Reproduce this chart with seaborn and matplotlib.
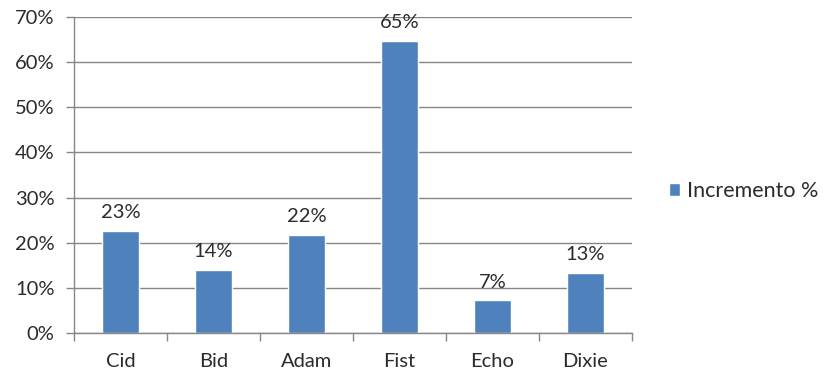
import matplotlib
matplotlib.use("Agg")
import matplotlib.pyplot as plt
from matplotlib.ticker import PercentFormatter, FixedLocator
import seaborn as sns
import pandas as pd

categories = ["Cid", "Bid", "Adam", "Fist", "Echo", "Dixie"]
values = [0.227, 0.141, 0.218, 0.646, 0.073, 0.134]
series_name = "Incremento %"
y_ticks = [0.0, 0.1, 0.2, 0.3, 0.4, 0.5, 0.6, 0.7]

df = pd.DataFrame({"name": categories, "value": values})

sns.set_theme(style="white")
plt.rcParams["font.family"] = ["Lato", "DejaVu Sans"]

bar_color = "#4F81BD"
line_color = "#868686"
text_color = "#2b2b2b"
fsize = 14.5

fig = plt.figure(figsize=(8.23, 3.73), dpi=100)
ax = fig.add_axes([74 / 823, 1 - 333.3 / 373, (632 - 74) / 823, (333.3 - 16.7) / 373])

sns.barplot(data=df, x="name", y="value", color=bar_color, width=0.4,
            saturation=1, label=series_name, ax=ax)

ax.set_ylim(0, 0.7)
ax.set_xlim(-0.5, len(categories) - 0.5)
ax.yaxis.set_major_locator(FixedLocator(y_ticks))
ax.yaxis.set_major_formatter(PercentFormatter(1.0, decimals=0))
ax.grid(axis="y", color=line_color, linewidth=1)
ax.set_axisbelow(True)

for side in ["top", "right"]:
    ax.spines[side].set_visible(False)
for side in ["left", "bottom"]:
    ax.spines[side].set_color(line_color)
    ax.spines[side].set_linewidth(1)

ax.set_xlabel("")
ax.set_ylabel("")
ax.tick_params(axis="y", left=True, length=6, color=line_color, width=1,
               labelsize=fsize, labelcolor=text_color, pad=8)
ax.tick_params(axis="x", which="major", bottom=False, labelsize=fsize,
               labelcolor=text_color, pad=8)
ax.set_xticks([i - 0.5 for i in range(len(categories) + 1)], minor=True)
ax.tick_params(axis="x", which="minor", bottom=True, length=6,
               color=line_color, width=1)

for container in ax.containers:
    ax.bar_label(container, labels=[f"{v:.0%}" for v in values], padding=7,
                 fontsize=fsize, color=text_color)

leg = ax.legend(loc="center left", bbox_to_anchor=(1.05, 0.45), frameon=False,
                fontsize=15.5, handlelength=0.55, handleheight=0.55,
                handletextpad=0.33, borderaxespad=0)
for t in leg.get_texts():
    t.set_color(text_color)

fig.savefig("out.png", dpi=100)
